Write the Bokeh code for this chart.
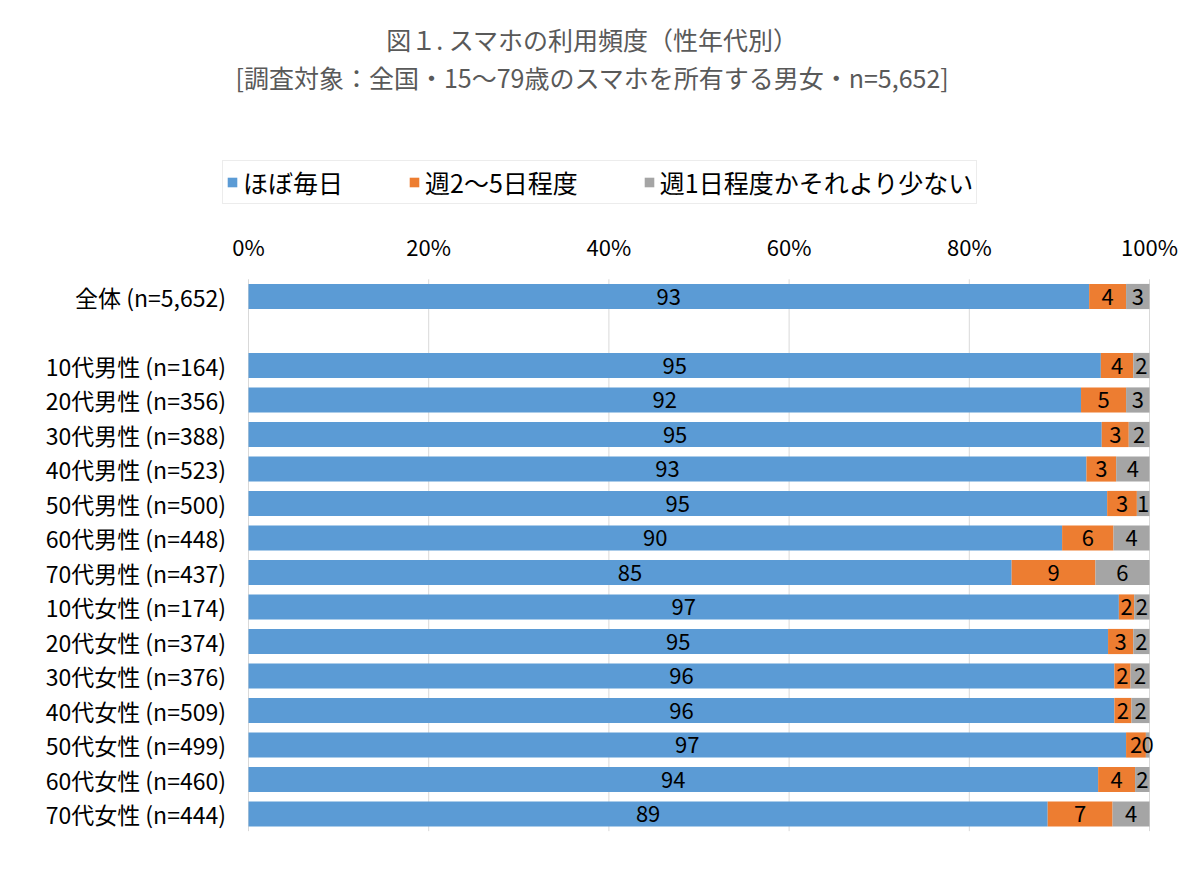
from bokeh.plotting import figure
from bokeh.models import Range1d, ColumnDataSource, Legend, LegendItem, Title
from bokeh.core.properties import value
from bokeh.embed import file_html
from bokeh.resources import INLINE

title_line1 = "図１. スマホの利用頻度（性年代別）"
title_line2 = "[調査対象：全国・15～79歳のスマホを所有する男女・n=5,652]"

categories = [
    "全体 (n=5,652)",
    "10代男性 (n=164)", "20代男性 (n=356)", "30代男性 (n=388)", "40代男性 (n=523)",
    "50代男性 (n=500)", "60代男性 (n=448)", "70代男性 (n=437)",
    "10代女性 (n=174)", "20代女性 (n=374)", "30代女性 (n=376)", "40代女性 (n=509)",
    "50代女性 (n=499)", "60代女性 (n=460)", "70代女性 (n=444)",
]
series_names = ["ほぼ毎日", "週2～5日程度", "週1日程度かそれより少ない"]
daily  = [93.3, 94.6, 92.4, 94.7, 93.0, 95.3, 90.3, 84.7, 96.6, 95.4, 96.1, 96.1, 97.4, 94.3, 88.7]
weekly = [4.1, 3.6, 5.0, 3.0, 3.3, 3.3, 5.7, 9.3, 1.7, 2.8, 1.8, 1.9, 2.2, 4.1, 7.2]
less   = [2.6, 1.8, 2.6, 2.3, 3.7, 1.4, 4.0, 6.0, 1.7, 1.8, 2.1, 2.0, 0.4, 1.6, 4.1]
tick_values = [0, 20, 40, 60, 80, 100]
colors = ["#5B9BD5", "#ED7D31", "#A5A5A5"]

FONT = "Noto Sans CJK JP"

# ---- layout constants (pixels on the canvas) ----
CANVAS_W, CANVAS_H = 1184, 861
TOP, BOTTOM_PAD = 94, 30            # frame top / space under the frame
X0_PX, X100_PX = 248, 1149          # where 0% and 100% sit
ROW0_PX, ROW_PX = 296, 34.5         # centre of the first row, row pitch
frame_bottom_px = CANVAS_H - BOTTOM_PAD

ppu = (X100_PX - X0_PX) / 100.0
x_start = -X0_PX / ppu
x_end = (CANVAS_W - X0_PX) / ppu
y_top = (TOP - ROW0_PX) / ROW_PX
y_bottom = (frame_bottom_px - ROW0_PX) / ROW_PX

# row index of each category: 全体 first, then one empty row, then the rest
rows = [0] + list(range(2, len(categories) + 1))

src = ColumnDataSource(dict(row=rows, cat=categories, daily=daily, weekly=weekly, less=less))

p = figure(x_range=Range1d(x_start, x_end), y_range=Range1d(y_bottom, y_top),
           width=CANVAS_W, height=CANVAS_H,
           min_border_left=0, min_border_right=0, min_border_top=TOP,
           min_border_bottom=BOTTOM_PAD,
           toolbar_location=None, output_backend="svg")
p.outline_line_color = None
p.background_fill_color = "white"
p.border_fill_color = "white"
p.xaxis.visible = False
p.yaxis.visible = False
p.xgrid.grid_line_color = None
p.ygrid.grid_line_color = None

# vertical gridlines at the tick values, spanning the bar area only
grid_top = -0.5
grid_bottom = rows[-1] + 0.5
p.segment(x0=tick_values, x1=tick_values, y0=[grid_top] * len(tick_values),
          y1=[grid_bottom] * len(tick_values), line_color="#D9D9D9", line_width=1)

rs = p.hbar_stack(["daily", "weekly", "less"], y="row", height=0.73, color=colors,
                  source=src, line_color=None)

# data labels centered in each segment
lx, ly, lt = [], [], []
for r, vals in zip(rows, zip(daily, weekly, less)):
    start = 0.0
    for v in vals:
        lx.append(start + v / 2)
        ly.append(r)
        lt.append(f"{v:.0f}")
        start += v
p.text(x="x", y="y", text="t", source=ColumnDataSource(dict(x=lx, y=ly, t=lt)),
       text_align="center", text_baseline="middle",
       text_font=value(FONT), text_font_size="22px", text_color="#000000")

# category labels (left of the 0% line)
p.text(x=[-2.5] * len(categories), y=rows, text=categories,
       text_align="right", text_baseline="middle",
       text_font=value(FONT), text_font_size="23px", text_color="#000000")

# percentage tick labels above the bars
tick_row = (245 - ROW0_PX) / ROW_PX
p.text(x=tick_values, y=[tick_row] * len(tick_values), text=[f"{t}%" for t in tick_values],
       text_align="center", text_baseline="middle",
       text_font=value(FONT), text_font_size="22px", text_color="#000000")

# legend
items = [LegendItem(label=n, renderers=[r]) for n, r in zip(series_names, rs)]
legend = Legend(items=items, orientation="horizontal",
                location=(222, frame_bottom_px - 204),
                label_text_font=FONT, label_text_font_size="25px", label_text_color="#000000",
                glyph_width=12, glyph_height=12, label_standoff=5, spacing=65,
                padding=3, margin=0, border_line_color="#D9D9D9",
                background_fill_color="white", background_fill_alpha=1.0)
p.add_layout(legend, "center")

# title lines (added last -> outermost)
t2 = Title(text=title_line2, align="center", standoff=0,
           text_font=FONT, text_font_size="25px", text_font_style="normal",
           text_color="#595959")
t1 = Title(text=title_line1, align="center", standoff=0,
           text_font=FONT, text_font_size="25px", text_font_style="normal",
           text_color="#595959")
p.add_layout(t2, "above")
p.add_layout(t1, "above")

open("out.html", "w").write(file_html(p, INLINE))
